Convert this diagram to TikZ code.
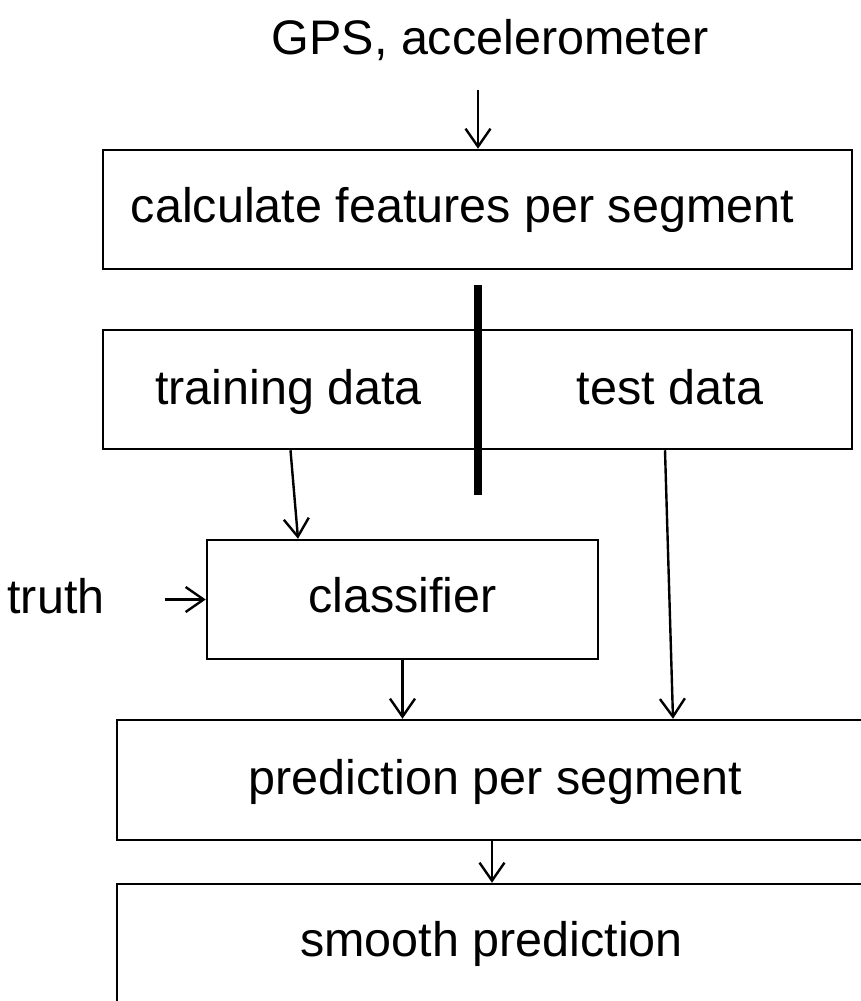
\documentclass[tikz,border=0pt]{standalone}
\usepackage{fontspec}
\setmainfont{Liberation Sans}
\usetikzlibrary{arrows.meta,calc}
\begin{document}
\begin{tikzpicture}[x=1pt,y=-1pt,
  txt/.style={inner sep=0pt, font=\fontsize{48.5}{58}\selectfont, text height=35pt, text depth=10pt},
  box/.style={draw, line width=2.5pt, inner sep=0pt, minimum height=119pt},
  arr/.style={line width=2.4pt, -{Straight Barb[length=18pt,width=25pt,line width=2.4pt]}},
  bar/.style={line width=8pt}]
\clip (0,0) rectangle (861,1001);
\fill[white] (0,0) rectangle (861,1001);
% labels
\node[txt] (gps) at (490,42) {GPS, accelerometer};
\node[txt] (truth) at (56,601) {truth};
% boxes
\node[box, minimum width=749pt, label={[txt, xshift=-15pt]center:calculate features per segment}] (feat) at (477.5,209.5) {};
\node[box, minimum width=375pt, label={[txt, xshift=-2pt, yshift=-2pt]center:training data}] (train) at (290.5,389.5) {};
\node[box, minimum width=374pt, label={[txt, xshift=5pt, yshift=-2pt]center:test data}] (test) at (665,389.5) {};
\node[box, minimum width=391pt, label={[txt]center:classifier}] (cls) at (402.5,599.5) {};
\node[box, minimum width=763pt, minimum height=120pt, label={[txt, xshift=-3pt, yshift=-2pt]center:prediction per segment}] (pred) at (498.5,780) {};
\node[box, minimum width=763pt, minimum height=136pt, label={[txt, yshift=8pt, xshift=-7pt]center:smooth prediction}] (smooth) at (498.5,952) {};
% separator bar
\draw[bar] (478,285) -- (478,495);
% connectors
\coordinate (gpsend) at (478,90);
\draw[arr] (gpsend) -- (feat.north -| gpsend);
\draw[arr] (train.south) -- ([xshift=-104.5pt]cls.north);
\draw[arr] ([xshift=60pt]truth.east |- cls.west) -- (cls.west);
\draw[arr] (cls.south) -- (pred.north -| cls.south);
\draw[arr] (test.south) -- ([xshift=174.5pt]pred.north);
\draw[arr] ([xshift=-6.5pt]pred.south) -- ([xshift=-6.5pt]smooth.north);
\end{tikzpicture}
\end{document}
